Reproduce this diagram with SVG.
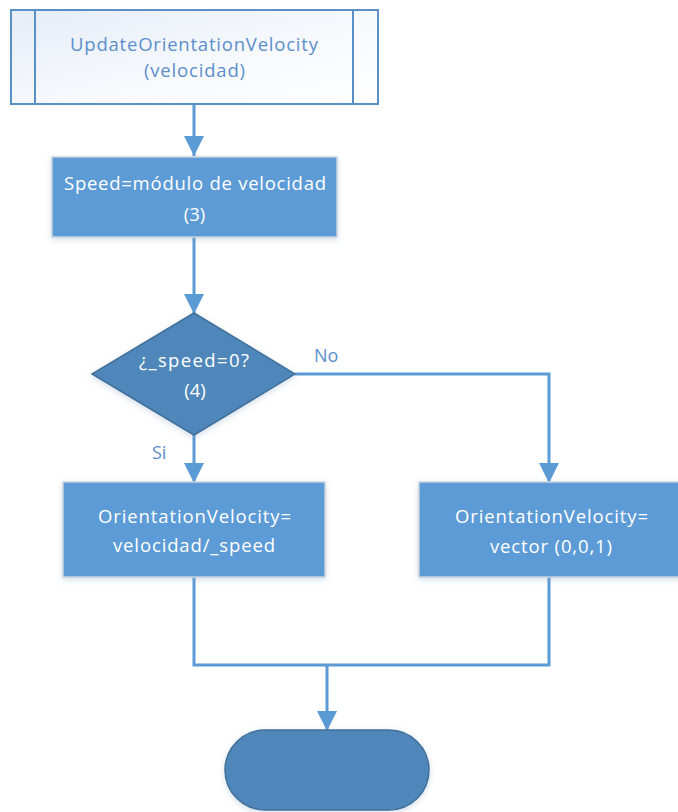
<svg xmlns="http://www.w3.org/2000/svg" width="678" height="812" viewBox="0 0 678 812">
  <defs>
    <linearGradient id="subFill" x1="0" y1="0" x2="1" y2="1">
      <stop offset="0" stop-color="#e6edf7"/>
      <stop offset="0.6" stop-color="#f8fafd"/>
      <stop offset="1" stop-color="#ffffff"/>
    </linearGradient>
    <filter id="shadow" x="-10%" y="-10%" width="120%" height="130%">
      <feDropShadow dx="0" dy="2" stdDeviation="3" flood-color="#7f9fc0" flood-opacity="0.35"/>
    </filter>
    <marker id="arrowhead" viewBox="0 0 20 20" refX="20" refY="10" markerWidth="20" markerHeight="20" markerUnits="userSpaceOnUse" orient="auto">
      <path d="M0,0 L20,10 L0,20 z" fill="#5b9bd5"/>
    </marker>
  </defs>
  <style>
    .lbl { font-family: "Open Sans", "Noto Sans", "Liberation Sans", sans-serif; font-size: 18.5px; text-anchor: middle; }
    .white { fill: #ffffff; }
    .blue { fill: #5b8fcc; }
    .process { fill: #5b9bd5; stroke: #c9d3de; stroke-width: 1.5; filter: url(#shadow); }
    .dark { fill: #4f87ba; stroke: #41719c; stroke-width: 1.5; filter: url(#shadow); }
    .conn { fill: none; stroke: #5b9bd5; stroke-width: 3; }
    .edge { font-family: "Open Sans", "Noto Sans", "Liberation Sans", sans-serif; font-size: 18px; fill: #5b8fcc; }
  </style>

  <!-- connectors -->
  <g id="connectors">
    <path class="conn" d="M194,104 V156" marker-end="url(#arrowhead)"/>
    <path class="conn" d="M194,237 V314" marker-end="url(#arrowhead)"/>
    <path class="conn" d="M194,435 V483" marker-end="url(#arrowhead)"/>
    <path class="conn" d="M295,374 H549 V483" marker-end="url(#arrowhead)"/>
    <path class="conn" d="M194,577 V665 H549 V577"/>
    <path class="conn" d="M327,665 V731" marker-end="url(#arrowhead)"/>
    <text class="edge" x="314" y="362">No</text>
    <text class="edge" x="152" y="459">Si</text>
  </g>

  <!-- subroutine header -->
  <g id="start">
    <rect x="11" y="10" width="367" height="94" fill="url(#subFill)" stroke="#5a8fc8" stroke-width="2"/>
    <line x1="35" y1="10" x2="35" y2="104" stroke="#5a8fc8" stroke-width="2"/>
    <line x1="353" y1="10" x2="353" y2="104" stroke="#5a8fc8" stroke-width="2"/>
    <text class="lbl blue" x="194" y="51" textLength="248">UpdateOrientationVelocity</text>
    <text class="lbl blue" x="194.5" y="77" textLength="101">(velocidad)</text>
  </g>

  <g id="speed">
    <rect class="process" x="52" y="157" width="285" height="80"/>
    <text class="lbl white" x="195" y="190" textLength="262">Speed=módulo de velocidad</text>
    <text class="lbl white" x="194.5" y="221">(3)</text>
  </g>

  <g id="decision">
    <polygon class="dark" points="194,313 295,374 194,435 92,374"/>
    <text class="lbl white" x="194" y="367" textLength="110">¿_speed=0?</text>
    <text class="lbl white" x="195" y="397">(4)</text>
  </g>

  <g id="divide">
    <rect class="process" x="63" y="482" width="262" height="95"/>
    <text class="lbl white" x="194.5" y="523" textLength="193">OrientationVelocity=</text>
    <text class="lbl white" x="194" y="552" textLength="162">velocidad/_speed</text>
  </g>

  <g id="default">
    <rect class="process" x="419" y="482" width="262" height="95"/>
    <text class="lbl white" x="551.5" y="523" textLength="193">OrientationVelocity=</text>
    <text class="lbl white" x="551" y="553" textLength="122">vector (0,0,1)</text>
  </g>

  <g id="end">
    <rect class="dark" x="225" y="730" width="204" height="80" rx="40" ry="40"/>
  </g>
</svg>
